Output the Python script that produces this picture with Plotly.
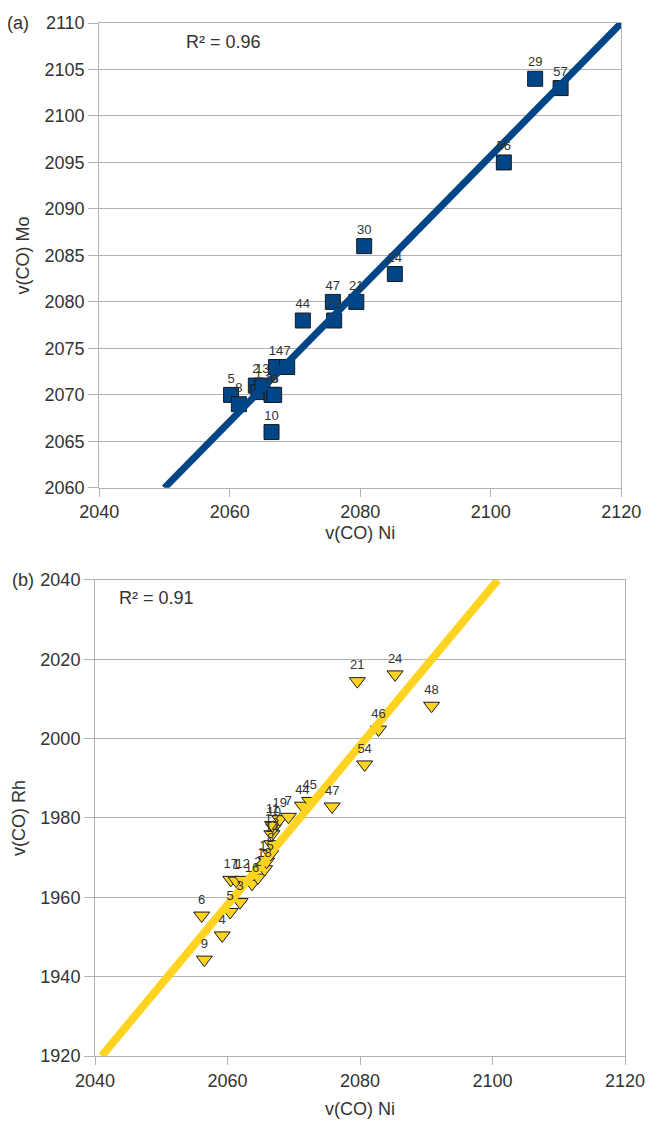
import plotly.graph_objects as go

# ---------------- data: panel (a) Mo vs Ni ----------------
a_labels = ["5", "8", "2", "1", "13", "16", "6", "10", "14", "7", "44", "47", "22", "21", "30", "24", "56", "29", "57"]
a_ni = [2060.2, 2061.4, 2064.0, 2064.4, 2065.0, 2066.4, 2066.8, 2066.4, 2067.1, 2068.8, 2071.2, 2075.8, 2076.0, 2079.4, 2080.6, 2085.3, 2102.0, 2106.8, 2110.7]
a_mo = [2070.0, 2069.0, 2071.0, 2070.3, 2071.0, 2070.0, 2070.0, 2066.0, 2073.0, 2073.0, 2078.0, 2080.0, 2078.0, 2080.0, 2086.0, 2083.0, 2095.0, 2104.0, 2103.0]
a_fit_x = [2050.0, 2120.0]
a_fit_y = [2060.0, 2110.0]
a_r2 = "R² = 0.96"

# ---------------- data: panel (b) Rh vs Ni ----------------
b_labels = ["6", "9", "4", "5", "3", "17", "1", "12", "16", "2", "18", "15", "8", "14", "13", "10", "11", "19", "7",
            "44", "45", "47", "21", "24", "46", "54", "48"]
b_ni = [2056.1, 2056.5, 2059.2, 2060.4, 2061.9, 2060.5, 2061.3, 2062.3, 2063.7, 2064.6, 2065.6, 2065.9, 2066.5, 2066.7, 2066.7, 2067.0, 2066.8, 2067.9, 2069.2,
        2071.3, 2072.4, 2075.8, 2079.6, 2085.3, 2082.8, 2080.7, 2090.8]
b_rh = [1955.4, 1944.3, 1950.4, 1956.3, 1958.8, 1964.4, 1964.2, 1964.4, 1963.4, 1965.0, 1967.1, 1969.0, 1970.9, 1973.4, 1975.9, 1977.6, 1978.2, 1979.7, 1980.3,
        1983.1, 1984.3, 1982.9, 2014.5, 2016.2, 2002.3, 1993.5, 2008.3]
b_fit_x = [2041.0, 2100.8]
b_fit_y = [1920.0, 2040.0]
b_r2 = "R² = 0.91"

x_ticks = [2040, 2060, 2080, 2100, 2120]

BLUE = "#004586"
YELLOW = "#ffd320"
GRID = "#b3b3b3"
TXT = "#333333"
FONT = "Liberation Sans, Arial, sans-serif"

fig = go.Figure()

# panel (a)
fig.add_trace(go.Scatter(x=a_ni, y=a_mo, mode="markers", xaxis="x", yaxis="y",
                         marker=dict(symbol="square", size=15, color=BLUE,
                                     line=dict(color="#1a1a1a", width=1)),
                         showlegend=False, hoverinfo="skip"))
fig.add_trace(go.Scatter(x=a_fit_x, y=a_fit_y, mode="lines", xaxis="x", yaxis="y",
                         line=dict(color=BLUE, width=7), showlegend=False, hoverinfo="skip"))
fig.add_trace(go.Scatter(x=a_ni, y=a_mo, mode="markers+text", text=a_labels, textposition="top center",
                         xaxis="x", yaxis="y", textfont=dict(family=FONT, size=13, color=TXT),
                         marker=dict(size=13, opacity=0),
                         showlegend=False, hoverinfo="skip"))

# panel (b)
fig.add_trace(go.Scatter(x=b_ni, y=b_rh, mode="markers", xaxis="x2", yaxis="y2",
                         marker=dict(symbol="triangle-down", size=14, color=YELLOW,
                                     line=dict(color="#1a1a1a", width=1)),
                         showlegend=False, hoverinfo="skip"))
fig.add_trace(go.Scatter(x=b_fit_x, y=b_fit_y, mode="lines", xaxis="x2", yaxis="y2",
                         line=dict(color=YELLOW, width=8), showlegend=False, hoverinfo="skip"))
fig.add_trace(go.Scatter(x=b_ni, y=b_rh, mode="markers+text", text=b_labels, textposition="top center",
                         xaxis="x2", yaxis="y2", textfont=dict(family=FONT, size=13, color=TXT),
                         marker=dict(size=12, opacity=0),
                         showlegend=False, hoverinfo="skip"))

axis_common = dict(showline=True, linecolor=GRID, linewidth=1, mirror=True,
                   ticks="outside", tickcolor=GRID, tickfont=dict(family=FONT, size=18, color=TXT),
                   zeroline=False)

fig.update_layout(
    width=657, height=1127,
    margin=dict(l=95, r=22, t=23, b=68),
    paper_bgcolor="white", plot_bgcolor="white",
    font=dict(family=FONT, color=TXT),
    xaxis=dict(domain=[0.008, 0.993], range=[2040, 2120], tickvals=x_ticks, showgrid=False,
               ticklen=8, anchor="y",
               title=dict(text="v(CO) Ni", font=dict(family=FONT, size=18, color=TXT), standoff=4),
               **axis_common),
    yaxis=dict(domain=[0.550, 1.0], range=[2060, 2110], dtick=5, showgrid=True, gridcolor=GRID,
               ticklen=10, anchor="x",
               title=dict(text="v(CO) Mo", font=dict(family=FONT, size=18, color=TXT), standoff=10),
               **axis_common),
    xaxis2=dict(domain=[0.0, 1.0], range=[2040, 2120], tickvals=x_ticks, showgrid=False,
                ticklen=8, anchor="y2",
                title=dict(text="v(CO) Ni", font=dict(family=FONT, size=18, color=TXT), standoff=12),
                **axis_common),
    yaxis2=dict(domain=[0.0, 0.4608], range=[1920, 2040], dtick=20, showgrid=True, gridcolor=GRID,
                ticklen=10, anchor="x2",
                title=dict(text="v(CO) Rh", font=dict(family=FONT, size=18, color=TXT), standoff=10),
                **axis_common),
    annotations=[
        dict(text="(a)", xref="paper", yref="paper", x=-0.17, y=1.0, xanchor="left", yanchor="middle",
             showarrow=False, font=dict(family=FONT, size=18, color=TXT)),
        dict(text=a_r2, xref="x", yref="y", x=2053, y=2108, xanchor="left", yanchor="middle",
             showarrow=False, font=dict(family=FONT, size=18, color=TXT)),
        dict(text="(b)", xref="paper", yref="paper", x=-0.16, y=0.4608, xanchor="left", yanchor="middle",
             showarrow=False, font=dict(family=FONT, size=18, color=TXT)),
        dict(text=b_r2, xref="x2", yref="y2", x=2043.3, y=2035.5, xanchor="left", yanchor="middle",
             showarrow=False, font=dict(family=FONT, size=18, color=TXT)),
    ],
)

fig.write_html("out.html")
